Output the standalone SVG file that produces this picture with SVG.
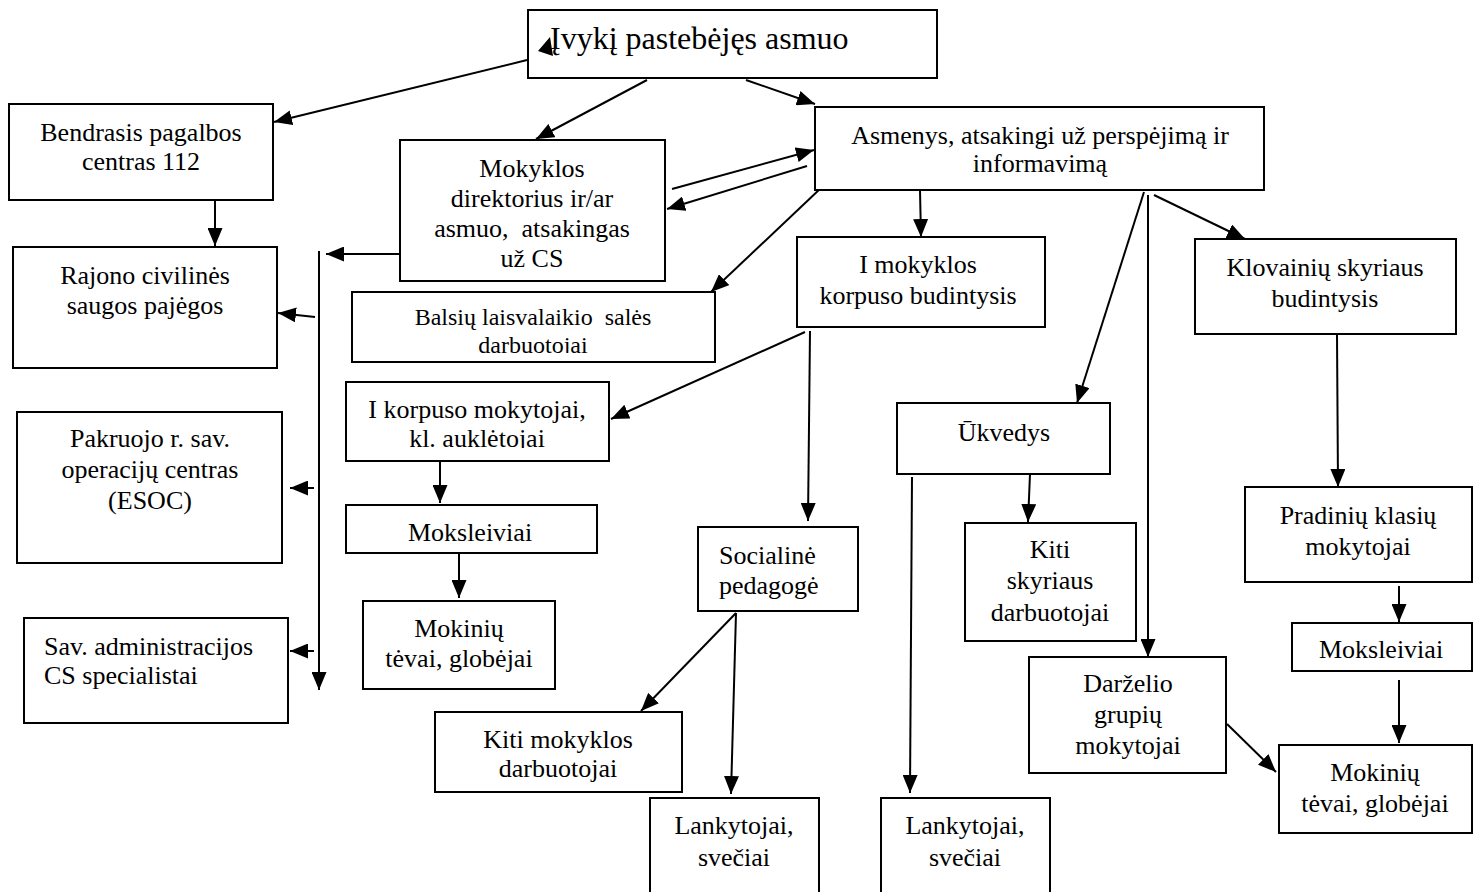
<svg xmlns="http://www.w3.org/2000/svg" width="1474" height="892" viewBox="0 0 1474 892">
<defs>
<marker id="ah" markerUnits="userSpaceOnUse" markerWidth="19" markerHeight="15" refX="18" refY="7.5" orient="auto">
<path d="M0,0 L18,7.5 L0,15 z" fill="#000"/>
</marker>
<clipPath id="c1"><rect x="346" y="382" width="263" height="66"/></clipPath>
<clipPath id="c2"><rect x="352" y="292" width="363" height="61"/></clipPath>
<style>
rect{fill:#fff;stroke:#000;stroke-width:2}
text{font-family:"Liberation Serif","Times New Roman",serif;font-size:26px;fill:#000;text-anchor:middle}
.l{text-anchor:start}
.s{font-size:24px}
.big{font-size:32px;text-anchor:start}
#connectors line{stroke:#000;stroke-width:2;marker-end:url(#ah)}
</style>
</defs>
<rect x="0" y="0" width="1474" height="892" style="stroke:none"/>

<g id="connectors">
<line x1="527" y1="60" x2="274" y2="122"/>
<line x1="647" y1="80" x2="536" y2="139"/>
<line x1="746" y1="80" x2="815" y2="104"/>
<line x1="672" y1="189" x2="814" y2="150"/>
<line x1="807" y1="166" x2="667" y2="209"/>
<line x1="400" y1="254" x2="326" y2="254"/>
<line x1="319" y1="251" x2="319" y2="690"/>
<line x1="315" y1="317" x2="278" y2="313"/>
<line x1="314" y1="488" x2="290" y2="488"/>
<line x1="314" y1="651" x2="290" y2="651"/>
<line x1="215" y1="200" x2="215" y2="246"/>
<line x1="821" y1="188" x2="711" y2="292"/>
<line x1="920" y1="190" x2="921" y2="237"/>
<line x1="805" y1="332" x2="611" y2="419"/>
<line x1="810" y1="331" x2="808" y2="521"/>
<line x1="440" y1="461" x2="440" y2="503"/>
<line x1="459" y1="553" x2="459" y2="598"/>
<line x1="736" y1="613" x2="641" y2="711"/>
<line x1="736" y1="613" x2="731" y2="794"/>
<line x1="1144" y1="192" x2="1077" y2="403"/>
<line x1="1148" y1="195" x2="1148" y2="657"/>
<line x1="1154" y1="195" x2="1245" y2="239"/>
<line x1="1030" y1="474" x2="1028" y2="522"/>
<line x1="912" y1="477" x2="910" y2="793"/>
<line x1="1337" y1="335" x2="1338" y2="487"/>
<line x1="1399" y1="586" x2="1399" y2="622"/>
<line x1="1399" y1="680" x2="1399" y2="743"/>
<line x1="1227" y1="724" x2="1276" y2="772"/>
</g>

<g id="n-top"><rect x="528" y="10" width="409" height="68"/><text class="big" x="550" y="49">Įvykį pastebėjęs asmuo</text></g>
<path d="M538,51 L550,37 L553,56 z" fill="#000"/>
<g id="n-bendrasis"><rect x="9" y="104" width="264" height="96"/><text x="141" y="141">Bendrasis pagalbos</text><text x="141" y="170">centras 112</text></g>
<g id="n-direktorius"><rect x="400" y="140" width="265" height="141"/><text x="532" y="177">Mokyklos</text><text x="532" y="207">direktorius ir/ar</text><text x="532" y="237" xml:space="preserve">asmuo,  atsakingas</text><text x="532" y="267">už CS</text></g>
<g id="n-asmenys"><rect x="815" y="107" width="449" height="83"/><text x="1040" y="144">Asmenys, atsakingi už perspėjimą ir</text><text x="1040" y="172">informavimą</text></g>
<g id="n-rajono"><rect x="13" y="247" width="264" height="121"/><text x="145" y="284">Rajono civilinės</text><text x="145" y="314">saugos pajėgos</text></g>
<g id="n-balsiu"><rect x="352" y="292" width="363" height="70"/><g clip-path="url(#c2)"><text class="s" x="533" y="325" xml:space="preserve">Balsių laisvalaikio  salės</text><text class="s" x="533" y="353">darbuotojai</text></g></g>
<g id="n-imokyklos"><rect x="797" y="237" width="248" height="90"/><text x="918" y="273">I mokyklos</text><text x="918" y="304">korpuso budintysis</text></g>
<g id="n-klovainiu"><rect x="1195" y="239" width="261" height="95"/><text x="1325" y="276">Klovainių skyriaus</text><text x="1325" y="307">budintysis</text></g>
<g id="n-pakruojo"><rect x="17" y="412" width="265" height="151"/><text x="150" y="447">Pakruojo r. sav.</text><text x="150" y="478">operacijų centras</text><text x="150" y="509">(ESOC)</text></g>
<g id="n-sav"><rect x="24" y="618" width="264" height="105"/><text class="l" x="44" y="655">Sav. administracijos</text><text class="l" x="44" y="684">CS specialistai</text></g>
<g id="n-ikorpuso"><rect x="346" y="382" width="263" height="79"/><g clip-path="url(#c1)"><text x="477" y="418">I korpuso mokytojai,</text><text x="477" y="447">kl. auklėtojai</text></g></g>
<g id="n-moksleiviai1"><rect x="346" y="505" width="251" height="48"/><text x="470" y="541">Moksleiviai</text></g>
<g id="n-mokiniu1"><rect x="363" y="601" width="192" height="88"/><text x="459" y="637">Mokinių</text><text x="459" y="667">tėvai, globėjai</text></g>
<g id="n-kitimokyklos"><rect x="435" y="712" width="247" height="80"/><text x="558" y="748">Kiti mokyklos</text><text x="558" y="777">darbuotojai</text></g>
<g id="n-socialine"><rect x="698" y="527" width="160" height="84"/><text class="l" x="719" y="564">Socialinė</text><text class="l" x="719" y="594">pedagogė</text></g>
<g id="n-lankytojai1"><rect x="650" y="798" width="169" height="110"/><text x="734" y="834">Lankytojai,</text><text x="734" y="866">svečiai</text></g>
<g id="n-lankytojai2"><rect x="881" y="798" width="169" height="110"/><text x="965" y="834">Lankytojai,</text><text x="965" y="866">svečiai</text></g>
<g id="n-ukvedys"><rect x="897" y="403" width="213" height="71"/><text x="1004" y="441">Ūkvedys</text></g>
<g id="n-kitiskyriaus"><rect x="965" y="523" width="171" height="118"/><text x="1050" y="558">Kiti</text><text x="1050" y="589">skyriaus</text><text x="1050" y="621">darbuotojai</text></g>
<g id="n-darzelio"><rect x="1029" y="657" width="197" height="116"/><text x="1128" y="692">Darželio</text><text x="1128" y="723">grupių</text><text x="1128" y="754">mokytojai</text></g>
<g id="n-pradiniu"><rect x="1245" y="487" width="227" height="95"/><text x="1358" y="524">Pradinių klasių</text><text x="1358" y="555">mokytojai</text></g>
<g id="n-moksleiviai2"><rect x="1292" y="623" width="180" height="48"/><text x="1381" y="658">Moksleiviai</text></g>
<g id="n-mokiniu2"><rect x="1279" y="745" width="193" height="88"/><text x="1375" y="781">Mokinių</text><text x="1375" y="812">tėvai, globėjai</text></g>
</svg>
